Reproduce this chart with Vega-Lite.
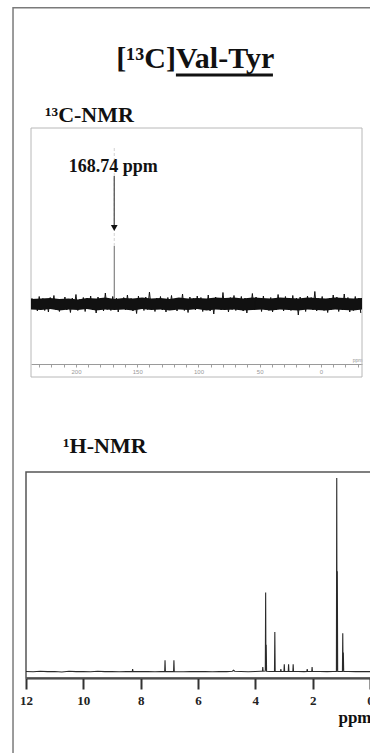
{
  "$schema": "https://vega.github.io/schema/vega-lite/v6.json",
  "width": 357,
  "height": 746,
  "autosize": {"type": "none"},
  "padding": {"left": 13, "top": 7, "right": 0, "bottom": 0},
  "background": "white",
  "config": {"view": {"stroke": null}, "font": "Liberation Serif"},
  "layer": [
    {
      "encoding": {
        "x": {"field": "ppm", "type": "quantitative",
          "scale": {"domain": [236.7, -33.5], "range": [18, 349], "nice": false, "zero": false},
          "axis": {"orient": "bottom", "offset": -389, "grid": false,
            "values": [230, 220, 210, 200, 190, 180, 170, 160, 150, 140, 130, 120, 110, 100, 90, 80, 70, 60, 50, 40, 30, 20, 10, 0, -10, -20, -30],
            "labelExpr": "datum.value % 50 === 0 ? datum.label : ''",
            "labelFont": "Liberation Sans", "labelFontSize": 6, "labelColor": "#9a9a9a", "labelPadding": 1,
            "labelFlush": false, "labelOverlap": false,
            "tickColor": "#a0a0a0", "tickSize": 3, "domainColor": "#9a9a9a",
            "title": "ppm", "titleFont": "Liberation Sans", "titleFontSize": 5, "titleFontWeight": "normal", "titleColor": "#999999",
            "titleAnchor": "end", "titleAlign": "right", "titleX": 349, "titleY": -3, "titleBaseline": "alphabetic"}},
        "y": {"field": "v", "type": "quantitative", "scale": {"domain": [-898, 594], "nice": false, "zero": false}, "axis": null}
      },
      "layer": [
        {
          "data": {"values": [{"ppm": 236.7, "ppm2": -33.5, "v": -146, "v2": 352}]},
          "mark": {"type": "rect", "fillOpacity": 0, "stroke": "#b8b8b8", "strokeWidth": 1},
          "encoding": {"x2": {"field": "ppm2"}, "y2": {"field": "v2"}}
        },
        {
          "data": {"values": [{"ppm": 168.74, "v": 116, "v2": 312}]},
          "mark": {"type": "rule", "color": "#d2d2d2", "strokeWidth": 1, "strokeDash": [3, 2]},
          "encoding": {"y2": {"field": "v2"}}
        },
        {
          "data": {"values": [{"ppm": 168.74, "v": 0, "v2": 116}]},
          "mark": {"type": "rule", "color": "#6a6a6a", "strokeWidth": 1},
          "encoding": {"y2": {"field": "v2"}}
        },
        {
          "data": {"values": [
            {"ppm": 236.7, "v": -11, "v2": 10}, {"ppm": 228.5, "v": -12, "v2": 11}, {"ppm": 221, "v": -10, "v2": 12}, {"ppm": 213.5, "v": -13, "v2": 10}, {"ppm": 206, "v": -11, "v2": 11},
            {"ppm": 198.5, "v": -12, "v2": 9}, {"ppm": 191, "v": -10, "v2": 12}, {"ppm": 183.5, "v": -13, "v2": 11}, {"ppm": 176, "v": -11, "v2": 13}, {"ppm": 168.5, "v": -12, "v2": 10},
            {"ppm": 161, "v": -11, "v2": 12}, {"ppm": 153.5, "v": -13, "v2": 11}, {"ppm": 146, "v": -10, "v2": 13}, {"ppm": 138.5, "v": -12, "v2": 11}, {"ppm": 131, "v": -11, "v2": 12},
            {"ppm": 123.5, "v": -13, "v2": 10}, {"ppm": 116, "v": -11, "v2": 13}, {"ppm": 108.5, "v": -12, "v2": 11}, {"ppm": 101, "v": -10, "v2": 12}, {"ppm": 93.5, "v": -13, "v2": 11},
            {"ppm": 86, "v": -11, "v2": 13}, {"ppm": 78.5, "v": -12, "v2": 12}, {"ppm": 71, "v": -11, "v2": 13}, {"ppm": 63.5, "v": -13, "v2": 11}, {"ppm": 56, "v": -12, "v2": 13},
            {"ppm": 48.5, "v": -11, "v2": 12}, {"ppm": 41, "v": -13, "v2": 11}, {"ppm": 33.5, "v": -11, "v2": 13}, {"ppm": 26, "v": -12, "v2": 12}, {"ppm": 18.5, "v": -13, "v2": 11},
            {"ppm": 11, "v": -11, "v2": 13}, {"ppm": 3.5, "v": -12, "v2": 12}, {"ppm": -4, "v": -13, "v2": 11}, {"ppm": -11.5, "v": -11, "v2": 13}, {"ppm": -19, "v": -12, "v2": 12},
            {"ppm": -26.5, "v": -13, "v2": 11}, {"ppm": -33.5, "v": -11, "v2": 12}
          ]},
          "mark": {"type": "area", "color": "#111111", "opacity": 1},
          "encoding": {"y2": {"field": "v2"}}
        },
        {
          "data": {"values": [
            {"ppm": 236, "v": 12}, {"ppm": 234.5, "v": -10}, {"ppm": 233, "v": 7}, {"ppm": 231.5, "v": -14}, {"ppm": 230, "v": 15}, {"ppm": 228.5, "v": -8}, {"ppm": 227, "v": 11}, {"ppm": 225.5, "v": -13}, {"ppm": 224, "v": 9}, {"ppm": 222.5, "v": -16},
            {"ppm": 221, "v": 13}, {"ppm": 219.5, "v": -6}, {"ppm": 218, "v": 17}, {"ppm": 216.5, "v": -11}, {"ppm": 215, "v": 8}, {"ppm": 213.5, "v": -15}, {"ppm": 212, "v": 10}, {"ppm": 210.5, "v": -9}, {"ppm": 209, "v": 14}, {"ppm": 207.5, "v": -12},
            {"ppm": 206, "v": 6}, {"ppm": 204.5, "v": -17}, {"ppm": 203, "v": 12}, {"ppm": 201.5, "v": -7}, {"ppm": 200, "v": 19}, {"ppm": 198.5, "v": -13}, {"ppm": 197, "v": 9}, {"ppm": 195.5, "v": -10}, {"ppm": 194, "v": 13}, {"ppm": 192.5, "v": -15},
            {"ppm": 191, "v": 11}, {"ppm": 189.5, "v": -8}, {"ppm": 188, "v": 16}, {"ppm": 186.5, "v": -12}, {"ppm": 185, "v": 7}, {"ppm": 183.5, "v": -18}, {"ppm": 182, "v": 14}, {"ppm": 180.5, "v": -9}, {"ppm": 179, "v": 10}, {"ppm": 177.5, "v": -14},
            {"ppm": 176, "v": 22}, {"ppm": 174.5, "v": -11}, {"ppm": 173, "v": 8}, {"ppm": 171.5, "v": -13}, {"ppm": 170, "v": 15}, {"ppm": 168.5, "v": -7}, {"ppm": 167, "v": 12}, {"ppm": 165.5, "v": -16}, {"ppm": 164, "v": 9}, {"ppm": 162.5, "v": -10},
            {"ppm": 161, "v": 13}, {"ppm": 159.5, "v": -12}, {"ppm": 158, "v": 18}, {"ppm": 156.5, "v": -9}, {"ppm": 155, "v": 11}, {"ppm": 153.5, "v": -14}, {"ppm": 152, "v": 7}, {"ppm": 150.5, "v": -19}, {"ppm": 149, "v": 16}, {"ppm": 147.5, "v": -8},
            {"ppm": 146, "v": 10}, {"ppm": 144.5, "v": -13}, {"ppm": 143, "v": 14}, {"ppm": 141.5, "v": -11}, {"ppm": 140, "v": 24}, {"ppm": 138.5, "v": -10}, {"ppm": 137, "v": 9}, {"ppm": 135.5, "v": -15}, {"ppm": 134, "v": 12}, {"ppm": 132.5, "v": -7},
            {"ppm": 131, "v": 15}, {"ppm": 129.5, "v": -12}, {"ppm": 128, "v": 8}, {"ppm": 126.5, "v": -16}, {"ppm": 125, "v": 13}, {"ppm": 123.5, "v": -9}, {"ppm": 122, "v": 17}, {"ppm": 120.5, "v": -11}, {"ppm": 119, "v": 10}, {"ppm": 117.5, "v": -14},
            {"ppm": 116, "v": 12}, {"ppm": 114.5, "v": -8}, {"ppm": 113, "v": 20}, {"ppm": 111.5, "v": -13}, {"ppm": 110, "v": 9}, {"ppm": 108.5, "v": -17}, {"ppm": 107, "v": 14}, {"ppm": 105.5, "v": -10}, {"ppm": 104, "v": 11}, {"ppm": 102.5, "v": -12},
            {"ppm": 101, "v": 16}, {"ppm": 99.5, "v": -9}, {"ppm": 98, "v": 13}, {"ppm": 96.5, "v": -15}, {"ppm": 95, "v": 8}, {"ppm": 93.5, "v": -11}, {"ppm": 92, "v": 18}, {"ppm": 90.5, "v": -14}, {"ppm": 89, "v": 10}, {"ppm": 87.5, "v": -20},
            {"ppm": 86, "v": 14}, {"ppm": 84.5, "v": -7}, {"ppm": 83, "v": 11}, {"ppm": 81.5, "v": -12}, {"ppm": 80, "v": 23}, {"ppm": 78.5, "v": -10}, {"ppm": 77, "v": 9}, {"ppm": 75.5, "v": -16}, {"ppm": 74, "v": 13}, {"ppm": 72.5, "v": -11},
            {"ppm": 71, "v": 17}, {"ppm": 69.5, "v": -13}, {"ppm": 68, "v": 10}, {"ppm": 66.5, "v": -9}, {"ppm": 65, "v": 15}, {"ppm": 63.5, "v": -14}, {"ppm": 62, "v": 12}, {"ppm": 60.5, "v": -18}, {"ppm": 59, "v": 8}, {"ppm": 57.5, "v": -10},
            {"ppm": 56, "v": 21}, {"ppm": 54.5, "v": -12}, {"ppm": 53, "v": 14}, {"ppm": 51.5, "v": -8}, {"ppm": 50, "v": 11}, {"ppm": 48.5, "v": -15}, {"ppm": 47, "v": 16}, {"ppm": 45.5, "v": -11}, {"ppm": 44, "v": 9}, {"ppm": 42.5, "v": -13},
            {"ppm": 41, "v": 13}, {"ppm": 39.5, "v": -16}, {"ppm": 38, "v": 10}, {"ppm": 36.5, "v": -12}, {"ppm": 35, "v": 19}, {"ppm": 33.5, "v": -9}, {"ppm": 32, "v": 12}, {"ppm": 30.5, "v": -14}, {"ppm": 29, "v": 15}, {"ppm": 27.5, "v": -10},
            {"ppm": 26, "v": 8}, {"ppm": 24.5, "v": -13}, {"ppm": 23, "v": 17}, {"ppm": 21.5, "v": -11}, {"ppm": 20, "v": 12}, {"ppm": 18.5, "v": -22}, {"ppm": 17, "v": 14}, {"ppm": 15.5, "v": -9}, {"ppm": 14, "v": 10}, {"ppm": 12.5, "v": -15},
            {"ppm": 11, "v": 16}, {"ppm": 9.5, "v": -10}, {"ppm": 8, "v": 13}, {"ppm": 6.5, "v": -12}, {"ppm": 5, "v": 25}, {"ppm": 3.5, "v": -14}, {"ppm": 2, "v": 11}, {"ppm": 0.5, "v": -8}, {"ppm": -1, "v": 15}, {"ppm": -2.5, "v": -13},
            {"ppm": -4, "v": 9}, {"ppm": -5.5, "v": -17}, {"ppm": -7, "v": 12}, {"ppm": -8.5, "v": -11}, {"ppm": -10, "v": 18}, {"ppm": -11.5, "v": -10}, {"ppm": -13, "v": 14}, {"ppm": -14.5, "v": -15}, {"ppm": -16, "v": 11}, {"ppm": -17.5, "v": -12},
            {"ppm": -19, "v": 20}, {"ppm": -20.5, "v": -9}, {"ppm": -22, "v": 13}, {"ppm": -23.5, "v": -16}, {"ppm": -25, "v": 10}, {"ppm": -26.5, "v": -13}, {"ppm": -28, "v": 15}, {"ppm": -29.5, "v": -11}, {"ppm": -31, "v": 12}, {"ppm": -32.5, "v": -18}
          ]},
          "mark": {"type": "line", "color": "#111111", "strokeWidth": 1, "interpolate": "linear"}
        },
        {
          "data": {"values": [{"ppm": 168.74, "v": 256, "v2": 158}]},
          "mark": {"type": "rule", "color": "#555555", "strokeWidth": 1.3},
          "encoding": {"y2": {"field": "v2"}}
        },
        {
          "data": {"values": [{"ppm": 168.74, "v": 152}]},
          "mark": {"type": "point", "shape": "triangle-down", "filled": true, "size": 45, "color": "#111111", "opacity": 1}
        },
        {
          "data": {"values": [{"ppm": 168.74, "v": 264, "label": "168.74 ppm"}]},
          "mark": {"type": "text", "font": "Liberation Serif", "fontWeight": "bold", "fontSize": 18, "align": "center", "baseline": "alphabetic", "color": "#111111", "dx": -1},
          "encoding": {"text": {"field": "label"}}
        },
        {
          "data": {"values": [{"ppm": 225.3, "v": 364, "label": "¹³C-NMR"}]},
          "mark": {"type": "text", "font": "Liberation Serif", "fontWeight": "bold", "fontSize": 22, "align": "left", "baseline": "alphabetic", "color": "#111111"},
          "encoding": {"text": {"field": "label"}}
        },
        {
          "data": {"values": [{"ppm": 118.4, "v": 472, "label": "[¹³C]"}]},
          "mark": {"type": "text", "font": "Liberation Serif", "fontWeight": "bold", "fontSize": 30, "align": "right", "baseline": "alphabetic", "color": "#111111"},
          "encoding": {"text": {"field": "label"}}
        },
        {
          "data": {"values": [{"ppm": 118.4, "v": 472, "label": "Val-Tyr"}]},
          "mark": {"type": "text", "font": "Liberation Serif", "fontWeight": "bold", "fontSize": 30, "align": "left", "baseline": "alphabetic", "color": "#111111"},
          "encoding": {"text": {"field": "label"}}
        },
        {
          "data": {"values": [{"ppm": 118.4, "ppm2": 39.2, "v": 458}]},
          "mark": {"type": "rule", "color": "#111111", "strokeWidth": 3},
          "encoding": {"x2": {"field": "ppm2"}}
        }
      ]
    },
    {
      "encoding": {
        "x": {"field": "ppm", "type": "quantitative",
          "scale": {"domain": [12, 0], "range": [13, 357], "nice": false, "zero": false},
          "axis": {"orient": "bottom", "offset": -75, "grid": false,
            "values": [12, 10, 8, 6, 4, 2, 0],
            "labelFont": "Liberation Serif", "labelFontSize": 13, "labelFontWeight": "bold", "labelColor": "#222222", "labelPadding": 5,
            "labelFlush": false, "labelOverlap": false,
            "tickColor": "#333333", "tickSize": 11, "tickWidth": 2, "domainColor": "#333333", "domainWidth": 2,
            "title": "ppm", "titleFont": "Liberation Serif", "titleFontSize": 17, "titleFontWeight": "bold", "titleColor": "#111111",
            "titleAnchor": "end", "titleAlign": "right", "titleX": 358, "titleY": 44, "titleBaseline": "alphabetic"}},
        "y": {"field": "v", "type": "quantitative", "scale": {"domain": [-41.75, 342.8], "nice": false, "zero": false}, "axis": null}
      },
      "layer": [
        {
          "data": {"values": [{"ppm": 12.453, "v": -41.75, "v2": 342.8}]},
          "mark": {"type": "rule", "color": "#7a7a7a", "strokeWidth": 1.5},
          "encoding": {"y2": {"field": "v2"}}
        },
        {
          "data": {"values": [{"ppm": 12.453, "ppm2": -0.5, "v": 342.4}]},
          "mark": {"type": "rule", "color": "#7a7a7a", "strokeWidth": 1.5},
          "encoding": {"x2": {"field": "ppm2"}}
        },
        {
          "data": {"values": [{"ppm": 12, "ppm2": -1, "v": -3.1, "v2": 103.1}]},
          "mark": {"type": "rect", "fillOpacity": 0, "stroke": "#555555", "strokeWidth": 1.5},
          "encoding": {"x2": {"field": "ppm2"}, "y2": {"field": "v2"}}
        },
        {
          "data": {"values": [
            {"ppm": 12, "v": 0.3}, {"ppm": 11.75, "v": 0.1}, {"ppm": 11.5, "v": 0.4}, {"ppm": 11.25, "v": 0.2}, {"ppm": 11, "v": 0.3}, {"ppm": 10.75, "v": 0}, {"ppm": 10.5, "v": 0.4}, {"ppm": 10.25, "v": 0.2},
            {"ppm": 10, "v": 0.3}, {"ppm": 9.75, "v": 0.1}, {"ppm": 9.5, "v": 0.4}, {"ppm": 9.25, "v": 0.2}, {"ppm": 9, "v": 0.3}, {"ppm": 8.75, "v": 0.1}, {"ppm": 8.5, "v": 0.3},
            {"ppm": 8.292, "v": 0.2}, {"ppm": 8.28, "v": 1.5}, {"ppm": 8.268, "v": 0.2},
            {"ppm": 8, "v": 0.2}, {"ppm": 7.75, "v": 0.3}, {"ppm": 7.5, "v": 0.1}, {"ppm": 7.3, "v": 0.3},
            {"ppm": 7.162, "v": 0.2}, {"ppm": 7.15, "v": 6}, {"ppm": 7.138, "v": 0.2},
            {"ppm": 7, "v": 0.2},
            {"ppm": 6.852, "v": 0.2}, {"ppm": 6.84, "v": 6}, {"ppm": 6.828, "v": 0.2},
            {"ppm": 6.5, "v": 0.1}, {"ppm": 6.25, "v": 0.3}, {"ppm": 6, "v": 0.2}, {"ppm": 5.75, "v": 0.3}, {"ppm": 5.5, "v": 0.1}, {"ppm": 5.25, "v": 0.3}, {"ppm": 5, "v": 0.2},
            {"ppm": 4.8, "v": 0.4}, {"ppm": 4.76, "v": 0.9}, {"ppm": 4.72, "v": 0.4},
            {"ppm": 4.5, "v": 0.3}, {"ppm": 4.25, "v": 0.1}, {"ppm": 4, "v": 0.3}, {"ppm": 3.8, "v": 0.4},
            {"ppm": 3.752, "v": 0.4}, {"ppm": 3.74, "v": 2.5}, {"ppm": 3.728, "v": 0.4},
            {"ppm": 3.652, "v": 0.5}, {"ppm": 3.64, "v": 41}, {"ppm": 3.63, "v": 1}, {"ppm": 3.62, "v": 14}, {"ppm": 3.608, "v": 0.4},
            {"ppm": 3.5, "v": 0.3},
            {"ppm": 3.332, "v": 0.3}, {"ppm": 3.32, "v": 20.6}, {"ppm": 3.308, "v": 0.3},
            {"ppm": 3.122, "v": 0.3}, {"ppm": 3.11, "v": 1.5}, {"ppm": 3.098, "v": 0.3},
            {"ppm": 3.002, "v": 0.3}, {"ppm": 2.99, "v": 4}, {"ppm": 2.978, "v": 0.3},
            {"ppm": 2.852, "v": 0.3}, {"ppm": 2.84, "v": 4}, {"ppm": 2.828, "v": 0.3},
            {"ppm": 2.692, "v": 0.3}, {"ppm": 2.68, "v": 4}, {"ppm": 2.668, "v": 0.3},
            {"ppm": 2.5, "v": 0.3}, {"ppm": 2.3, "v": 0.2},
            {"ppm": 2.202, "v": 0.3}, {"ppm": 2.19, "v": 1.5}, {"ppm": 2.178, "v": 0.3},
            {"ppm": 2.032, "v": 0.3}, {"ppm": 2.02, "v": 2.5}, {"ppm": 2.008, "v": 0.3},
            {"ppm": 1.75, "v": 0.3}, {"ppm": 1.5, "v": 0.2}, {"ppm": 1.3, "v": 0.3},
            {"ppm": 1.172, "v": 0.3}, {"ppm": 1.16, "v": 100}, {"ppm": 1.15, "v": 1}, {"ppm": 1.14, "v": 52}, {"ppm": 1.128, "v": 0.3},
            {"ppm": 0.962, "v": 0.3}, {"ppm": 0.95, "v": 20}, {"ppm": 0.94, "v": 1}, {"ppm": 0.93, "v": 10}, {"ppm": 0.918, "v": 0.3},
            {"ppm": 0.75, "v": 0.3}, {"ppm": 0.5, "v": 0.2}, {"ppm": 0.25, "v": 0.3}, {"ppm": 0, "v": 0.2}
          ]},
          "mark": {"type": "line", "color": "#2a2a2a", "strokeWidth": 1.1, "interpolate": "linear"}
        },
        {
          "data": {"values": [{"ppm": 10.71, "v": 112.9, "label": "¹H-NMR"}]},
          "mark": {"type": "text", "font": "Liberation Serif", "fontWeight": "bold", "fontSize": 22, "align": "left", "baseline": "alphabetic", "color": "#111111"},
          "encoding": {"text": {"field": "label"}}
        }
      ]
    }
  ],
  "resolve": {"scale": {"x": "independent", "y": "independent"}}
}
